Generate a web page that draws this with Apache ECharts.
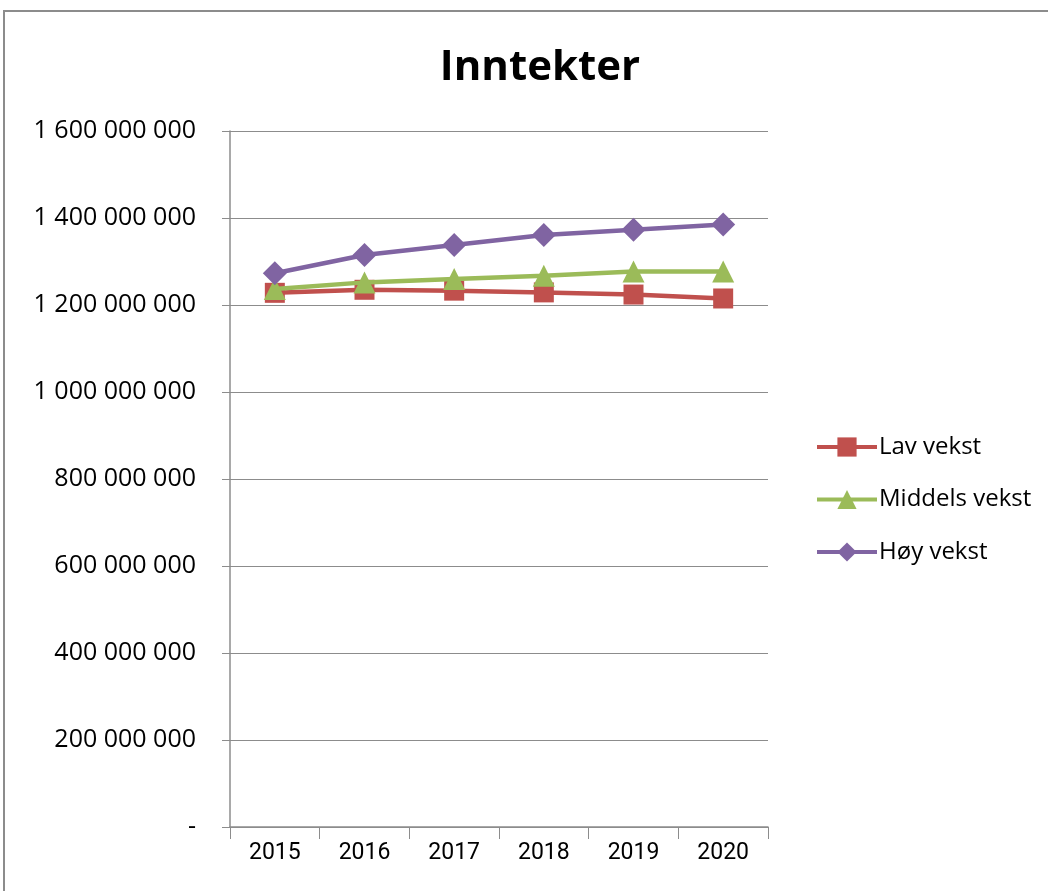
<!DOCTYPE html>
<html>
<head>
<meta charset="utf-8">
<script src="https://cdn.jsdelivr.net/npm/echarts@6/dist/echarts.min.js"></script>
<style>
html, body { margin: 0; padding: 0; background: #fff; }
#chart { width: 1048px; height: 891px; }
</style>
</head>
<body>
<div id="chart"></div>
<script>
// verdier lest av figuren (kroner)
var years = ['2015', '2016', '2017', '2018', '2019', '2020'];
var seriesNames = ['Lav vekst', 'Middels vekst', 'Høy vekst'];
var lavVekst = [1228000000, 1235000000, 1233000000, 1229000000, 1224000000, 1215000000];
var middelsVekst = [1237000000, 1252000000, 1260000000, 1267000000, 1277000000, 1277000000];
var hoyVekst = [1273000000, 1315000000, 1338000000, 1361000000, 1373000000, 1385000000];

var chart = echarts.init(document.getElementById('chart'));

function fmt(v) {
    if (v === 0) return '-';
    return String(v).replace(/\B(?=(\d{3})+(?!\d))/g, ' ');
}

var option = {
    animation: false,
    backgroundColor: '#fff',
    title: {
        text: 'Inntekter',
        left: 535,
        top: 42,
        textAlign: 'center',
        textStyle: { fontFamily: 'Open Sans', fontWeight: 'bold', fontSize: 42, color: '#000' }
    },
    graphic: [{
        type: 'rect',
        shape: { x: 4, y: 11, width: 1200, height: 1000 },
        style: { fill: 'none', stroke: '#8c8c8c', lineWidth: 2 },
        silent: true
    }],
    legend: {
        orient: 'vertical',
        left: 810,
        top: 430,
        itemWidth: 60,
        itemHeight: 24,
        itemGap: 28.5,
        data: seriesNames,
        lineStyle: { width: 4 },
        textStyle: { fontFamily: 'Open Sans', fontSize: 24, color: '#000', padding: [0, 0, 0, -3] }
    },
    grid: { left: 230, right: 280, top: 131, bottom: 64 },
    xAxis: {
        type: 'category',
        data: years,
        boundaryGap: true,
        axisLine: { lineStyle: { color: '#8c8c8c', width: 1.5 } },
        axisTick: { show: true, length: 12, alignWithLabel: false, lineStyle: { color: '#8c8c8c' } },
        axisLabel: { fontFamily: 'Roboto', fontSize: 23, color: '#000', margin: 15 }
    },
    yAxis: {
        type: 'value',
        min: 0,
        max: 1600000000,
        interval: 200000000,
        axisLine: { show: true, lineStyle: { color: '#8c8c8c', width: 1.5 } },
        axisTick: { show: true, length: 8, lineStyle: { color: '#8c8c8c' } },
        splitLine: { lineStyle: { color: '#8c8c8c', width: 1 } },
        axisLabel: { fontFamily: 'Open Sans', fontSize: 25, color: '#000', margin: 34, formatter: fmt }
    },
    series: [
        {
            name: seriesNames[0],
            type: 'line',
            data: lavVekst,
            color: '#C0504D',
            symbol: 'rect',
            symbolSize: 20,
            lineStyle: { width: 4.5 },
            z: 3
        },
        {
            name: seriesNames[1],
            type: 'line',
            data: middelsVekst,
            color: '#9BBB59',
            symbol: 'triangle',
            symbolSize: 22,
            lineStyle: { width: 4.5 },
            z: 4
        },
        {
            name: seriesNames[2],
            type: 'line',
            data: hoyVekst,
            color: '#8064A2',
            symbol: 'diamond',
            symbolSize: 24,
            lineStyle: { width: 4.5 },
            z: 5
        }
    ]
};

chart.setOption(option);
</script>
</body>
</html>
